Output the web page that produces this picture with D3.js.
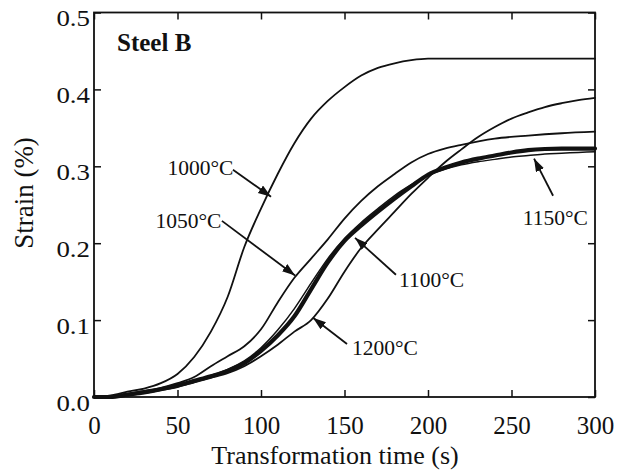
<!DOCTYPE html>
<html><head><meta charset="utf-8">
<script src="https://cdn.jsdelivr.net/npm/d3@7"></script>
<style>body{margin:0;background:#fff}svg{display:block}</style>
</head><body>
<svg id="c" width="626" height="474"></svg>
<script>
// ---- data ----
const xTicks = [0, 50, 100, 150, 200, 250, 300];
const yTicks = [0.0, 0.1, 0.2, 0.3, 0.4, 0.5];

const t1000 = [0,10,20,30,40,50,60,70,80,90,100,110,120,130,140,150,160,170,180,190,200,300];
const s1000 = [0,0.002,0.007,0.011,0.018,0.03,0.052,0.085,0.13,0.195,0.245,0.29,0.33,0.362,0.385,0.403,0.418,0.428,0.434,0.438,0.44,0.44];

const t1050 = [0,10,20,30,40,50,60,70,80,90,100,110,120,130,140,150,160,170,180,190,200,210,220,240,260,280,300];
const s1050 = [0,0,0.004,0.008,0.012,0.018,0.026,0.04,0.053,0.066,0.088,0.123,0.155,0.18,0.205,0.232,0.255,0.274,0.29,0.305,0.316,0.323,0.328,0.336,0.34,0.343,0.345];

const tAll = [0,10,20,30,40,50,60,70,80,90,100,110,120,130,140,150,160,170,180,190,200,210,220,230,240,250,260,270,280,290,300];
const s1100 = [0,0,0.003,0.006,0.01,0.015,0.021,0.027,0.034,0.044,0.06,0.08,0.105,0.14,0.175,0.203,0.223,0.241,0.258,0.274,0.289,0.298,0.305,0.31,0.314,0.318,0.321,0.3225,0.323,0.323,0.323];
const s1150 = [0,0,0.003,0.006,0.01,0.015,0.021,0.028,0.036,0.047,0.064,0.087,0.115,0.148,0.18,0.206,0.227,0.245,0.262,0.276,0.288,0.296,0.302,0.306,0.309,0.312,0.314,0.316,0.317,0.318,0.319];
const s1200 = [0,0,0.002,0.005,0.009,0.013,0.019,0.025,0.031,0.04,0.053,0.068,0.085,0.1,0.128,0.163,0.194,0.218,0.241,0.264,0.285,0.305,0.322,0.338,0.351,0.362,0.37,0.377,0.382,0.386,0.389];

const seriesNames = ["1000°C","1050°C","1100°C","1150°C","1200°C"];
const seriesT = [t1000, t1050, tAll, tAll, tAll];
const seriesS = [s1000, s1050, s1100, s1150, s1200];
const seriesWidth = [1.8, 1.8, 4.2, 1.5, 1.8];

// annotation label anchors and arrows (data coordinates)
const annText = ["1000°C","1050°C","1100°C","1200°C","1150°C"];
const annTextPos = [[44.0,0.289],[36.8,0.220],[182.6,0.1432],[154.5,0.0547],[256.7,0.224]];
const annFrom = [[83.2,0.2956],[76.6,0.229],[180.8,0.159],[151.5,0.069],[274.9,0.2617]];
const annTo = [[106,0.2604],[120.4,0.158],[156.3,0.207],[131.1,0.103],[263.5,0.31]];

const title = "Steel B";
const titlePos = [13.8, 0.4498];
const xTitle = "Transformation time (s)";
const yTitle = "Strain (%)";

// ---- drawing ----
const svg = d3.select("#c");
const L = 94, R = 595, T = 12.5, B = 397;
const x = d3.scaleLinear().domain([0,300]).range([L,R]);
const y = d3.scaleLinear().domain([0,0.5]).range([B,T]);
const serif = "'Liberation Serif','Times New Roman',Times,serif";
const ink = "#111";

svg.append("rect").attr("width",626).attr("height",474).attr("fill","#fff");

// axes
const gB = svg.append("g").attr("transform",`translate(0,${B})`)
  .call(d3.axisBottom(x).tickValues(xTicks).tickSize(-7).tickFormat(d3.format("d")));
gB.selectAll("text").attr("y",37).attr("dy",null)
  .attr("font-family",serif).attr("font-size",25).attr("fill",ink);
const gT = svg.append("g").attr("transform",`translate(0,${T})`)
  .call(d3.axisTop(x).tickValues(xTicks).tickSize(-7).tickFormat(""));
const gL = svg.append("g").attr("transform",`translate(${L},0)`)
  .call(d3.axisLeft(y).tickValues(yTicks).tickSize(-7).tickFormat(d3.format(".1f")));
gL.selectAll("text").attr("x",null).attr("dy",null).attr("y",null)
  .attr("text-anchor","end")
  .attr("transform","translate(-4,13) scale(1.12,1)")
  .attr("font-family",serif).attr("font-size",24).attr("fill",ink);
const gR = svg.append("g").attr("transform",`translate(${R},0)`)
  .call(d3.axisRight(y).tickValues(yTicks).tickSize(-7).tickFormat(""));
[gB,gT,gL,gR].forEach(g=>{
  g.select(".domain").remove();
  g.selectAll("line").attr("stroke",ink).attr("stroke-width",1.5);
});
svg.append("rect").attr("x",L).attr("y",T).attr("width",R-L).attr("height",B-T)
  .attr("fill","none").attr("stroke",ink).attr("stroke-width",1.8);

// curves
const line = d3.line().curve(d3.curveMonotoneX);
seriesNames.forEach((n,i)=>{
  const pts = seriesT[i].map((t,j)=>[x(t), y(seriesS[i][j])]);
  svg.append("path").attr("d",line(pts)).attr("fill","none")
    .attr("stroke",ink).attr("stroke-width",seriesWidth[i])
    .attr("stroke-linejoin","round").attr("stroke-linecap","round");
});

// arrowhead marker
svg.append("defs").append("marker").attr("id","ah")
  .attr("markerUnits","userSpaceOnUse").attr("markerWidth",14).attr("markerHeight",10)
  .attr("refX",13).attr("refY",4.5).attr("orient","auto")
  .append("path").attr("d","M0,0 L13,4.5 L0,9 Z").attr("fill",ink);

annText.forEach((s,i)=>{
  svg.append("text").attr("x",x(annTextPos[i][0])).attr("y",y(annTextPos[i][1]))
    .attr("font-family",serif).attr("font-size",21.5).attr("fill",ink).text(s);
  svg.append("line")
    .attr("x1",x(annFrom[i][0])).attr("y1",y(annFrom[i][1]))
    .attr("x2",x(annTo[i][0])).attr("y2",y(annTo[i][1]))
    .attr("stroke",ink).attr("stroke-width",1.8).attr("marker-end","url(#ah)");
});

svg.append("text").attr("x",x(titlePos[0])).attr("y",y(titlePos[1]))
  .attr("font-family",serif).attr("font-weight","bold").attr("font-size",25)
  .attr("fill",ink).text(title);

svg.append("text").attr("x",335).attr("y",464).attr("text-anchor","middle")
  .attr("font-family",serif).attr("font-size",26).attr("fill",ink).text(xTitle);
svg.append("text").attr("transform","translate(33,193) rotate(-90)")
  .attr("text-anchor","middle").attr("font-family",serif).attr("font-size",27)
  .attr("fill",ink).text(yTitle);
</script>
</body></html>
